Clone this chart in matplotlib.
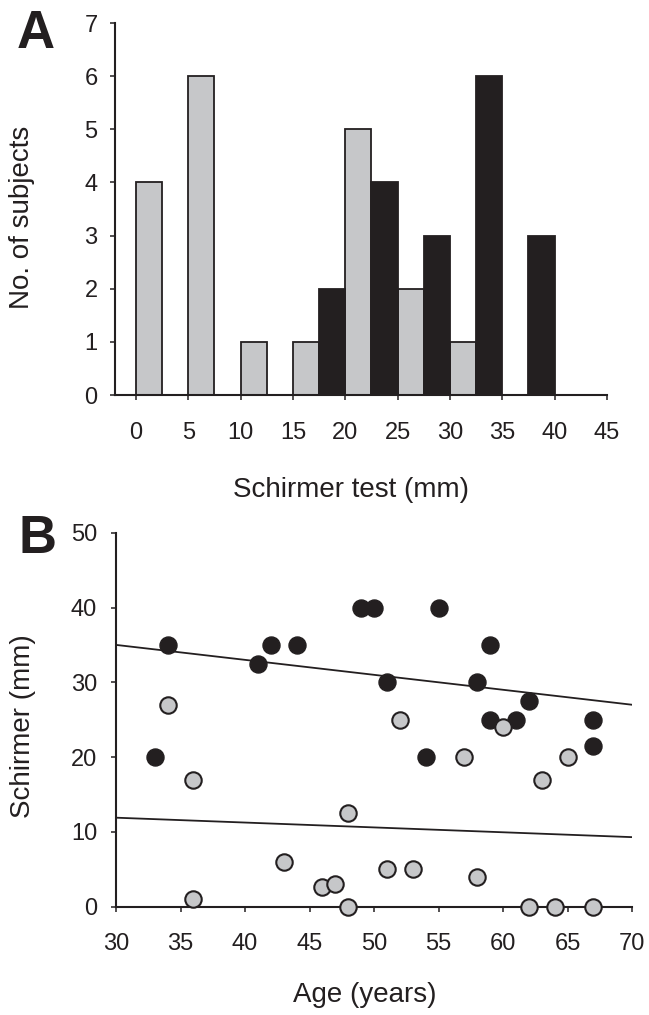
import matplotlib
matplotlib.use("Agg")
import matplotlib.pyplot as plt

plt.rcParams['font.family'] = ['Liberation Sans', 'DejaVu Sans']

# ---------------- Data ----------------
# Panel A histogram (bin left edges, counts)
gray_bins = [0, 5, 10, 15, 20, 25, 30]
gray_counts = [4, 6, 1, 1, 5, 2, 1]
black_bins = [17.5, 22.5, 27.5, 32.5, 37.5]
black_counts = [2, 4, 3, 6, 3]
bin_width = 2.5
a_xticks = [0, 5, 10, 15, 20, 25, 30, 35, 40, 45]
a_yticks = [0, 1, 2, 3, 4, 5, 6, 7]

# Panel B scatter
black_age = [33, 34, 41, 42, 44, 49, 50, 51, 54, 55, 58, 59, 59, 61, 62, 67, 67]
black_schirmer = [20, 35, 32.5, 35, 35, 40, 40, 30, 20, 40, 30, 35, 25, 25, 27.5, 25, 21.5]
gray_age = [34, 36, 36, 43, 46, 47, 48, 48, 51, 52, 53, 57, 58, 60, 62, 63, 64, 65, 67]
gray_schirmer = [27, 17, 1, 6, 2.6, 3, 0, 12.5, 5, 25, 5, 20, 4, 24, 0, 17, 0, 20, 0]
fit_x = [30, 70]
fit_black = [35.0, 27.0]
fit_gray = [11.9, 9.3]
b_xticks = [30, 35, 40, 45, 50, 55, 60, 65, 70]
b_yticks = [0, 10, 20, 30, 40, 50]

GRAY = '#c6c7c9'
BLACK = '#231f20'

W, H = 649, 1015
fig = plt.figure(figsize=(W / 100, H / 100), dpi=100)

def style(ax, xpad, ypad):
    for s in ['top', 'right']:
        ax.spines[s].set_visible(False)
    for s in ['left', 'bottom']:
        ax.spines[s].set_linewidth(1.5)
        ax.spines[s].set_color(BLACK)
    ax.tick_params(axis='both', direction='out', length=3.6, width=1.1,
                   color=BLACK, labelsize=17, labelcolor=BLACK)
    ax.tick_params(axis='x', pad=xpad)
    ax.tick_params(axis='y', pad=ypad)

# ---------------- Panel A ----------------
axA = fig.add_axes([115 / W, 1 - 395 / H, 492 / W, 372 / H])
axA.bar(gray_bins, gray_counts, width=bin_width, align='edge', color=GRAY,
        edgecolor=BLACK, linewidth=1.3, zorder=2)
axA.bar(black_bins, black_counts, width=bin_width, align='edge', color=BLACK,
        edgecolor=BLACK, linewidth=1.3, zorder=2)
axA.set_xlim(-2, 45)
axA.set_ylim(0, 7)
axA.set_xticks(a_xticks)
axA.set_yticks(a_yticks)
style(axA, 15.5, 9)

# ---------------- Panel B ----------------
axB = fig.add_axes([116 / W, 1 - 906.7 / H, 516 / W, 374 / H])
axB.plot(fit_x, fit_black, color=BLACK, lw=1.3, zorder=2)
axB.plot(fit_x, fit_gray, color=BLACK, lw=1.3, zorder=2)
axB.scatter(black_age, black_schirmer, s=150, color=BLACK, edgecolor=BLACK,
            linewidth=1.0, zorder=3, clip_on=False)
axB.scatter(gray_age, gray_schirmer, s=140, color=GRAY, edgecolor=BLACK,
            linewidth=1.5, zorder=4, clip_on=False)
axB.set_xlim(30, 70)
axB.set_ylim(0, 50)
axB.set_xticks(b_xticks)
axB.set_yticks(b_yticks)
style(axB, 15, 10)

# ---------------- Labels ----------------
def px(x, y):
    return x / W, 1 - y / H

fig.text(*px(22, 217), 'No. of subjects', rotation=90, ha='center', va='center',
         fontsize=20, color=BLACK)
fig.text(*px(351, 490), 'Schirmer test (mm)', ha='center', va='center',
         fontsize=20, color=BLACK)
fig.text(*px(23, 726), 'Schirmer (mm)', rotation=90, ha='center', va='center',
         fontsize=20, color=BLACK)
fig.text(*px(365, 995), 'Age (years)', ha='center', va='center',
         fontsize=20, color=BLACK)
fig.text(*px(36, 48), 'A', ha='center', va='baseline', fontsize=38,
         fontweight='bold', color=BLACK)
fig.text(*px(38, 553), 'B', ha='center', va='baseline', fontsize=38,
         fontweight='bold', color=BLACK)

fig.savefig('out.png', dpi=100)
